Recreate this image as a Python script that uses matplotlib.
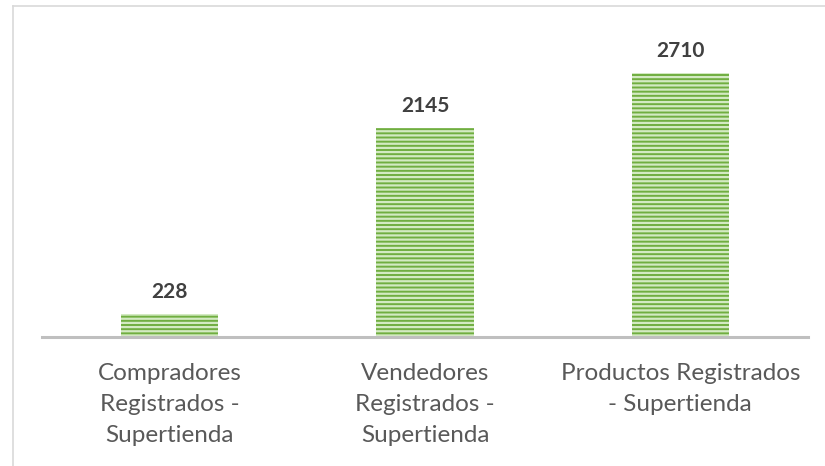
import matplotlib
matplotlib.use("Agg")
import matplotlib.pyplot as plt
from matplotlib.lines import Line2D

plt.rcParams['font.family'] = ['Lato', 'DejaVu Sans']
plt.rcParams['hatch.linewidth'] = 1.6

categorias = [
    "Compradores\nRegistrados -\nSupertienda",
    "Vendedores\nRegistrados -\nSupertienda",
    "Productos Registrados\n- Supertienda",
]
valores = [228, 2145, 2710]

verde = '#70AE40'
franja = '#D3EAC2'
gris_txt = '#595959'

fig = plt.figure(figsize=(8.25, 4.66), dpi=100)
ax = fig.add_axes([42/825, 1 - 336.5/466, (808 - 42)/825, 330/466])

x = range(len(valores))
ax.bar(x, valores, width=0.38, color=verde, linewidth=0)
# light horizontal stripes on top of the fill
ax.bar(x, valores, width=0.38, fill=False, hatch='----', edgecolor=franja, linewidth=0)

for xi, v in zip(x, valores):
    ax.annotate(str(v), (xi, v), xytext=(0, 9), textcoords='offset points',
                ha='center', va='bottom', fontsize=15, fontweight='bold', color='#404040')

ax.set_xlim(-0.5, 2.5)
ax.set_ylim(0, 3400)
ax.set_xticks(list(x))
ax.set_xticklabels(categorias, fontsize=17.5, color=gris_txt, linespacing=1.58)
ax.tick_params(axis='x', length=0, pad=19)
ax.set_yticks([])
for s in ['top', 'right', 'left']:
    ax.spines[s].set_visible(False)
ax.spines['bottom'].set_color('#BFBFBF')
ax.spines['bottom'].set_linewidth(2.2)

# light frame of the chart area (left and top edges)
fig.add_artist(Line2D([12.5/825, 12.5/825], [0, 1 - 6/466], color='#D9D9D9', lw=1.2))
fig.add_artist(Line2D([12.5/825, 1], [1 - 6/466, 1 - 6/466], color='#D9D9D9', lw=1.2))

fig.savefig("out.png", dpi=100)
